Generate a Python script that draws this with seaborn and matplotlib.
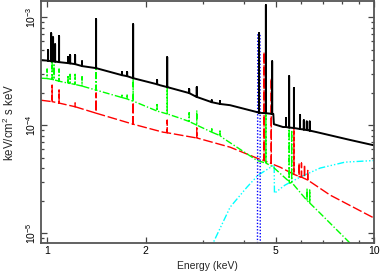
import matplotlib
matplotlib.use("Agg")
import matplotlib.pyplot as plt
import matplotlib.ticker as mticker
import numpy as np
import pandas as pd
import seaborn as sns

# continuum points (keV, keV/cm^2 s keV)
black_e = [0.958, 1.412, 1.794, 2.216, 2.875, 3.627, 4.386, 4.92, 4.94, 5.27, 6.69, 8.43, 10.0]
black_f = [4.0e-4, 3.37e-4, 2.78e-4, 2.34e-4, 1.82e-4, 1.53e-4, 1.32e-4, 1.27e-4, 1.02e-4, 9.6e-5, 8.6e-5, 7.3e-5, 6.5e-5]

green_e = [0.958, 1.412, 1.794, 2.55, 3.45, 4.39, 4.91, 5.53, 6.84, 8.44, 9.0]
green_f = [2.72e-4, 2.11e-4, 1.70e-4, 1.16e-4, 7.6e-5, 4.7e-5, 4.1e-5, 2.9e-5, 1.53e-5, 8.1e-6, 6.5e-6]

red_e = [0.958, 1.412, 1.794, 2.264, 2.875, 3.627, 4.42, 5.16, 5.94, 7.34, 10.0]
red_f = [1.70e-4, 1.29e-4, 1.04e-4, 8.6e-5, 7.6e-5, 6.25e-5, 4.9e-5, 4.08e-5, 3.3e-5, 2.25e-5, 1.38e-5]

cyan_e = [3.15, 3.22, 3.63, 4.09, 4.42, 4.95, 4.96, 5.34, 5.94, 6.84, 8.15, 10.0]
cyan_f = [6e-6, 8.1e-6, 1.74e-5, 2.67e-5, 3.44e-5, 4.27e-5, 2.34e-5, 2.78e-5, 3.3e-5, 4.0e-5, 4.54e-5, 4.7e-5]

blue_e = [4.40, 4.41, 4.48, 4.49]
blue_f = [5e-6, 7.1e-4, 7.1e-4, 5e-6]

# emission lines: energy, level under the line, top of the line
black_line_e = [1.007, 1.029, 1.043, 1.058, 1.088, 1.159, 1.176, 1.218, 1.279, 1.412, 1.695, 1.757, 1.833,
                2.17, 2.33, 2.72, 2.87, 3.19, 3.38, 4.45, 4.67, 4.88, 5.38, 5.50, 5.69, 5.94, 6.10, 6.23, 6.36]
black_line_base = [3.95e-4, 3.9e-4, 3.9e-4, 3.88e-4, 3.83e-4, 3.75e-4, 3.73e-4, 3.67e-4, 3.52e-4, 3.37e-4, 2.9e-4,
                   2.84e-4, 2.72e-4, 2.39e-4, 2.25e-4, 1.98e-4, 1.82e-4, 1.63e-4, 1.57e-4, 1.30e-4, 1.29e-4,
                   1.27e-4, 9.6e-5, 9.5e-5, 9.4e-5, 9.2e-5, 9.1e-5, 9.0e-5, 8.9e-5]
black_line_peak = [4.95e-4, 7.1e-4, 6.5e-4, 5.6e-4, 6.67e-4, 4.26e-4, 4.45e-4, 4.45e-4, 3.9e-4, 9.58e-4, 3.1e-4,
                   3.1e-4, 8.6e-4, 2.61e-4, 4.26e-4, 2.16e-4, 2.25e-4, 1.70e-4, 1.67e-4, 7.1e-4, 1.29e-3,
                   3.9e-4, 1.16e-4, 2.84e-4, 2.2e-4, 1.24e-4, 1.11e-4, 1.08e-4, 1.08e-4]

green_line_e = [1.0, 1.036, 1.05, 1.088, 1.159, 1.176, 1.218, 1.279, 1.412, 1.695, 1.757, 1.833,
                2.17, 2.33, 2.72, 2.87, 3.19, 3.38, 4.67, 5.50, 5.60, 6.24, 6.36]
green_line_base = [2.7e-4, 2.65e-4, 2.63e-4, 2.55e-4, 2.45e-4, 2.43e-4, 2.38e-4, 2.3e-4, 2.11e-4, 1.8e-4, 1.75e-4,
                   1.67e-4, 1.35e-4, 1.27e-4, 1.08e-4, 1.0e-4, 8.6e-5, 8.0e-5, 4.45e-5, 3.0e-5, 2.95e-5,
                   2.0e-5, 1.9e-5]
green_line_peak = [3.3e-4, 5.16e-4, 3.6e-4, 3.3e-4, 2.9e-4, 2.95e-4, 2.95e-4, 2.8e-4, 7.3e-4, 1.94e-4, 1.94e-4,
                   7.9e-4, 1.55e-4, 2.2e-4, 1.3e-4, 1.37e-4, 9.5e-5, 8.8e-5, 7.9e-4, 1.38e-4, 9e-5,
                   2.6e-5, 2.5e-5]

red_line_e = [1.036, 1.088, 1.218, 1.412, 1.833, 2.33, 2.87, 4.61, 4.85, 5.69, 5.90, 6.00, 6.13, 6.27]
red_line_base = [1.65e-4, 1.6e-4, 1.48e-4, 1.29e-4, 1.02e-4, 8.5e-5, 7.6e-5, 4.7e-5, 4.4e-5, 3.5e-5, 3.35e-5,
                 3.3e-5, 3.2e-5, 3.1e-5]
red_line_peak = [2.34e-4, 2.11e-4, 1.6e-4, 1.98e-4, 1.63e-4, 1.11e-4, 9.4e-5, 4.74e-4, 2.72e-4, 1.11e-4, 4.45e-5,
                 4.45e-5, 4.3e-5, 3.8e-5]


def spectrum(cont_e, cont_f, line_e=(), line_base=(), line_peak=()):
    # continuum points plus each line drawn as a spike up and down
    groups = [[(e, f)] for e, f in zip(cont_e, cont_f)]
    for e, b, p in zip(line_e, line_base, line_peak):
        groups.append([(e, b), (e, p), (e, b)])
    groups.sort(key=lambda g: g[0][0])
    pts = [p for g in groups for p in g]
    return pd.DataFrame(pts, columns=["E", "F"])


sns.set_theme(style="ticks")
plt.rcParams["font.family"] = ["Liberation Sans", "DejaVu Sans"]
plt.rcParams["mathtext.fontset"] = "custom"
plt.rcParams["mathtext.rm"] = "Liberation Sans"
plt.rcParams["mathtext.it"] = "Liberation Sans"

fig = plt.figure(figsize=(3.82, 2.73), dpi=100)
ax = fig.add_axes([41 / 382, 30 / 273, 333 / 382, 242 / 273])

cyan = spectrum(cyan_e, cyan_f)
sns.lineplot(data=cyan, x="E", y="F", sort=False, estimator=None, color="#00ffff", lw=1.0,
             linestyle=(0, (5, 1.5, 1, 1.5, 1, 1.5, 1, 1.5)), ax=ax)
red = spectrum(red_e, red_f, red_line_e, red_line_base, red_line_peak)
sns.lineplot(data=red, x="E", y="F", sort=False, estimator=None, color="#ff0000", lw=1.0,
             linestyle=(0, (7, 2)), ax=ax)
green = spectrum(green_e, green_f, green_line_e, green_line_base, green_line_peak)
sns.lineplot(data=green, x="E", y="F", sort=False, estimator=None, color="#00ff00", lw=1.0,
             linestyle=(0, (5, 1.5, 1, 1.5)), ax=ax)
blue = spectrum(blue_e, blue_f)
sns.lineplot(data=blue, x="E", y="F", sort=False, estimator=None, color="#0000ff", lw=1.0,
             linestyle=(0, (1, 1.3)), ax=ax)
black = spectrum(black_e, black_f, black_line_e, black_line_base, black_line_peak)
sns.lineplot(data=black, x="E", y="F", sort=False, estimator=None, color="black", lw=1.4, ax=ax)

ax.set_xscale("log")
ax.set_yscale("log")
ax.set_xlim(0.958, 10)
ax.set_ylim(8.1e-6, 1.41e-3)

ax.xaxis.set_major_locator(mticker.FixedLocator([1, 2, 5, 10]))
ax.xaxis.set_major_formatter(mticker.FixedFormatter(["1", "2", "5", "10"]))
ax.xaxis.set_minor_locator(mticker.FixedLocator([3, 4, 6, 7, 8, 9]))
ax.xaxis.set_minor_formatter(mticker.NullFormatter())
ax.yaxis.set_major_locator(mticker.LogLocator(base=10))
ax.yaxis.set_minor_locator(mticker.LogLocator(base=10, subs=np.arange(2, 10)))
ax.yaxis.set_minor_formatter(mticker.NullFormatter())

ax.tick_params(which="both", direction="in", top=True, right=True, labelsize=7.5, colors="#444444",
               labelcolor="black", width=0.9, pad=2.5)
ax.tick_params(which="major", length=4.5)
ax.tick_params(which="minor", length=2.5)
for lab in ax.get_yticklabels():
    lab.set_rotation(90)
    lab.set_va("center")
for s in ax.spines.values():
    s.set_color("#555555")
    s.set_linewidth(1.3)

ax.set_xlabel("Energy (keV)", fontsize=7.5, labelpad=3)
ax.set_ylabel("keV/cm$^2$ s keV", fontsize=8.3)
ax.yaxis.set_label_coords(-0.072, 0.5)

fig.savefig("out.png", dpi=100)
